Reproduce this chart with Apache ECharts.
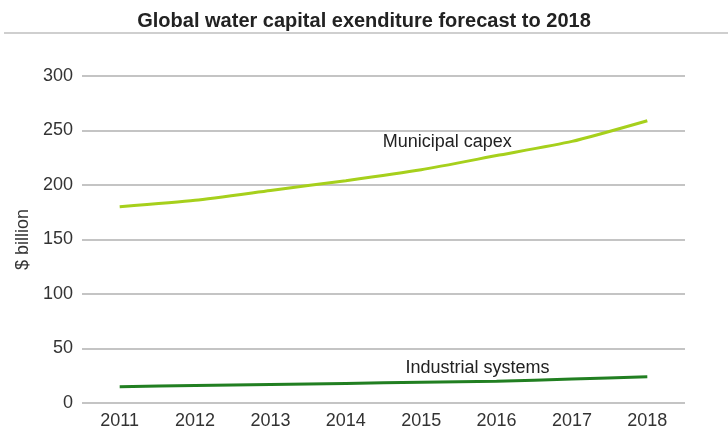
<!DOCTYPE html>
<html>
<head>
<meta charset="utf-8">
<script src="https://cdn.jsdelivr.net/npm/echarts@6/dist/echarts.min.js"></script>
<style>
  html, body { margin: 0; padding: 0; background: #fff; }
  #main { width: 728px; height: 431px; }
</style>
</head>
<body>
<div id="main"></div>
<script>
// 年份
var years = ['2011', '2012', '2013', '2014', '2015', '2016', '2017', '2018'];
// $ billion
var municipal = [180, 186, 195, 204, 214, 227, 240, 259];
var industrial = [15, 16, 17, 18, 19, 20, 22, 24];

var FONT = "'Liberation Sans', Arial, sans-serif";

var myChart = echarts.init(document.getElementById('main'));

myChart.setOption({
    animation: false,
    title: {
        text: 'Global water capital exenditure forecast to 2018',
        left: 'center',
        top: 6,
        textStyle: {
            fontFamily: FONT,
            fontWeight: 'bold',
            fontSize: 20,
            color: '#222'
        }
    },
    graphic: [{
        type: 'line',
        shape: { x1: 4, y1: 33, x2: 728, y2: 33 },
        style: { stroke: '#cfcfcf', lineWidth: 2 }
    }],
    grid: {
        left: 82,
        right: 43,
        top: 76,
        bottom: 28
    },
    xAxis: {
        type: 'category',
        data: years,
        boundaryGap: true,
        axisLine: { show: false },
        axisTick: { show: false },
        axisLabel: {
            color: '#333',
            fontSize: 18,
            fontFamily: FONT,
            margin: 9
        }
    },
    yAxis: {
        type: 'value',
        min: 0,
        max: 300,
        interval: 50,
        name: '$ billion',
        nameLocation: 'middle',
        nameGap: 49,
        nameTextStyle: {
            color: '#333',
            fontSize: 18,
            fontFamily: FONT
        },
        axisLine: { show: false },
        axisTick: { show: false },
        axisLabel: {
            color: '#333',
            fontSize: 18,
            fontFamily: FONT,
            margin: 9
        },
        splitLine: {
            lineStyle: { color: '#c4c4c4', width: 2 }
        }
    },
    series: [
        {
            name: 'Municipal capex',
            type: 'line',
            data: municipal,
            symbol: 'none',
            smooth: 0.2,
            lineStyle: { color: '#a6d01c', width: 3 },
            markPoint: {
                symbol: 'circle',
                symbolSize: 0,
                data: [{ coord: ['2015', 239], value: 0 }],
                label: {
                    show: true,
                    position: 'inside',
                    formatter: 'Municipal capex',
                    color: '#222',
                    fontSize: 18,
                    fontFamily: FONT,
                    offset: [26, 0]
                }
            }
        },
        {
            name: 'Industrial systems',
            type: 'line',
            data: industrial,
            symbol: 'none',
            smooth: 0.2,
            lineStyle: { color: '#217f21', width: 3 },
            markPoint: {
                symbol: 'circle',
                symbolSize: 0,
                data: [{ coord: ['2016', 32], value: 0 }],
                label: {
                    show: true,
                    position: 'inside',
                    formatter: 'Industrial systems',
                    color: '#222',
                    fontSize: 18,
                    fontFamily: FONT,
                    offset: [-19, 0]
                }
            }
        }
    ]
});
</script>
</body>
</html>
